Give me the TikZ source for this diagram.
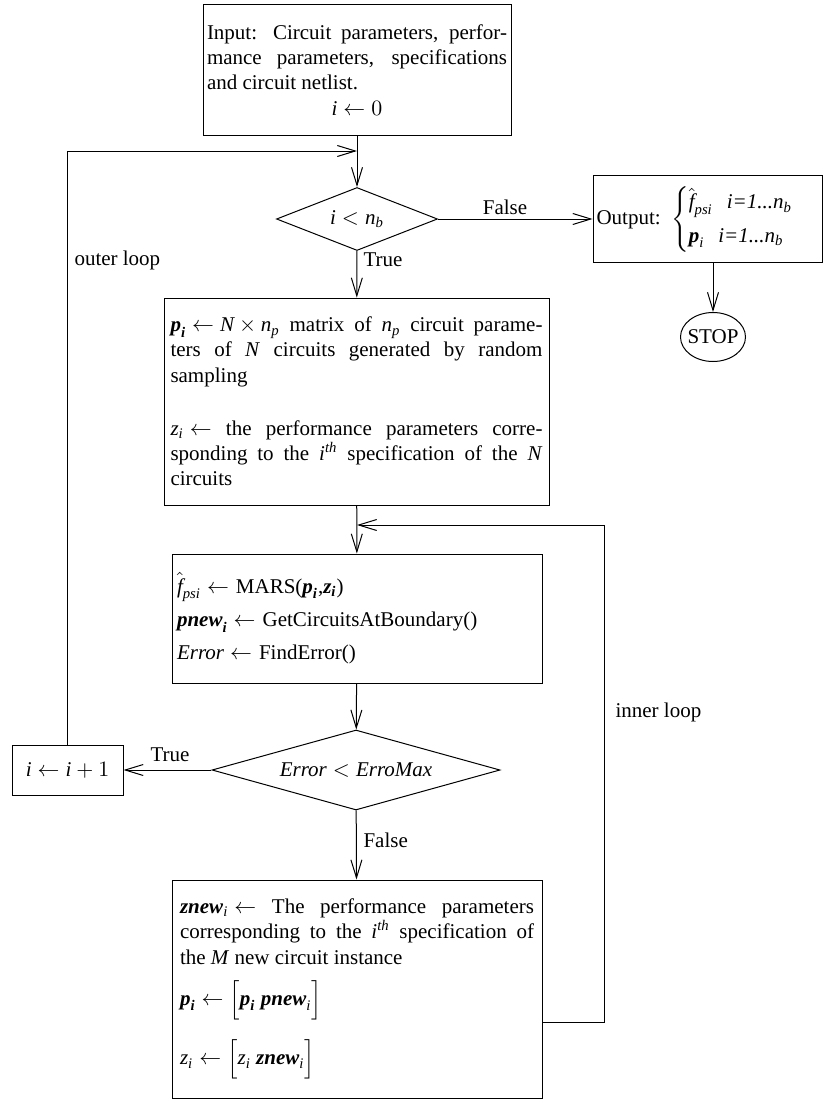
\documentclass[tikz,border=0pt]{standalone}
\usepackage{amsmath}
\usepackage{fontspec}
\setmainfont{Liberation Serif}
\usetikzlibrary{shapes.geometric,arrows.meta}

\newcommand{\tvar}[1]{\textit{#1}}
\newcommand{\bvar}[1]{\textbf{\textit{#1}}}
\thickmuskip=5mu\relax
\medmuskip=4mu\relax

\begin{document}
\begin{tikzpicture}[>={Straight Barb[length=9pt,width=5.5pt]}, x=0.5pt, y=-0.5pt, line width=0.5pt]
	\tikzstyle{every node}=[font=\fontsize{10.5}{12.6}\selectfont]
	\tikzstyle{block}=[draw, rectangle, inner sep=0pt]
	\tikzstyle{decision}=[draw, diamond, inner sep=0pt]
	\tikzstyle{lbl}=[inner sep=1pt]
	\useasboundingbox (0,0) rectangle (825,1102);

	% main column
	\node[block, minimum width=154pt, minimum height=65pt, text width=150pt, align=justify] (input) at (357,70)
		{Input: Circuit parameters, perfor-\linebreak mance parameters, specifications\linebreak and circuit netlist.\par
		{\centering $\tvar{i} \leftarrow 0$\par}};
	\node[decision, minimum width=80.5pt, minimum height=31.5pt, aspect=2.55] (test) at (357,219)
		{$\tvar{i} < \tvar{n}_{\tvar{b}}$};
	\node[block, minimum width=192.5pt, minimum height=103.5pt, text width=186pt, align=justify] (sample) at (356.5,401.5)
		{$\bvar{p}_{\bvar{i}} \leftarrow \tvar{N} \times \tvar{n}_{\tvar{p}}$\ matrix of $\tvar{n}_{\tvar{p}}$ circuit parame-\linebreak
		ters of \tvar{N} circuits generated by random\linebreak sampling\par\vspace{14pt}
		$\tvar{z}_{\tvar{i}} \leftarrow$ the performance parameters corre-\linebreak
		sponding to the \tvar{i}$^{\tvar{th}}$ specification of the \tvar{N}\linebreak circuits};
	\node[block, minimum width=185pt, minimum height=64.5pt, text width=180pt, align=left] (mars) at (357,618.5)
		{$\hat{\tvar{f}}_{\tvar{psi}} \leftarrow$ MARS($\bvar{p}_{\bvar{i}}$,$\bvar{z}_{\bvar{i}}$)\\[4pt]
		$\bvar{pnew}_{\bvar{i}} \leftarrow$\ GetCircuitsAtBoundary()\\[4pt]
		$\tvar{Error} \leftarrow$\ FindError()};
	\node[decision, minimum width=144pt, minimum height=40pt, aspect=3.6] (check) at (356,770)
		{$\tvar{Error} < \tvar{ErroMax}$};
	\node[block, minimum width=185pt, minimum height=109pt, text width=177pt, align=justify] (update) at (357,989)
		{$\bvar{znew}_{\tvar{i}} \leftarrow$\ The performance parameters\linebreak
		corresponding to the \tvar{i}$^{\tvar{th}}$ specification of\linebreak the \tvar{M} new circuit instance\par\vspace{7pt}
		$\bvar{p}_{\bvar{i}} \leftarrow \Bigl[\bvar{p}_{\bvar{i}}\ \bvar{pnew}_{\tvar{i}}\Bigr]$\par\vspace{9pt}
		$\tvar{z}_{\tvar{i}} \leftarrow \Bigl[\tvar{z}_{\tvar{i}}\ \bvar{znew}_{\tvar{i}}\Bigr]$};

	% side nodes
	\node[block, minimum width=114.5pt, minimum height=43.5pt, text width=111pt, inner xsep=1.5pt, align=left] (out) at (707.5,219)
		{Output: $\left\{\begin{array}{@{}l@{}}
			\hat{\tvar{f}}_{\tvar{psi}}\ \ \tvar{i=1...n}_{\tvar{b}}\\[4pt]
			\bvar{p}_{\tvar{i}}\ \ \tvar{i=1...n}_{\tvar{b}}
		\end{array}\right.$};
	\node[draw, ellipse, minimum width=32.5pt, minimum height=24.5pt, inner xsep=-1.5pt, inner ysep=0pt] (stop) at (713,337) {STOP};
	\node[block, minimum width=55.5pt, minimum height=25pt] (incr) at (67.5,770)
		{$\tvar{i} \leftarrow \tvar{i} + 1$};

	% loop joints
	\coordinate (outerjoin) at (357,151);
	\coordinate (innerjoin) at (357,525);
	\coordinate (innercorner) at (604,1022);

	% connectors
	\draw[->] (input) -- (test);
	\draw[->] (test) -- (sample);
	\draw[->] (test) -- (out);
	\draw[->] (out.south -| stop) -- (stop);
	\draw[->] (sample) -- (mars);
	\draw[->] (mars) -- (check);
	\draw[->] (check) -- (incr);
	\draw[->] (check) -- (update);
	\draw[->] (incr.north) -- (incr.north |- outerjoin) -- (outerjoin);
	\draw[->] (update.east |- innercorner) -- (innercorner) -- (innercorner |- innerjoin) -- (innerjoin);

	% labels
	\node[lbl] (falseA) at (505,207) {False};
	\node[lbl, anchor=west] (trueA) at (361,260) {True};
	\node[lbl, anchor=west] (outerlbl) at (72,260) {outer loop};
	\node[lbl] (trueB) at (170,755) {True};
	\node[lbl, anchor=west] (falseB) at (361,840) {False};
	\node[lbl, anchor=west] (innerlbl) at (613,712) {inner loop};
\end{tikzpicture}
\end{document}
